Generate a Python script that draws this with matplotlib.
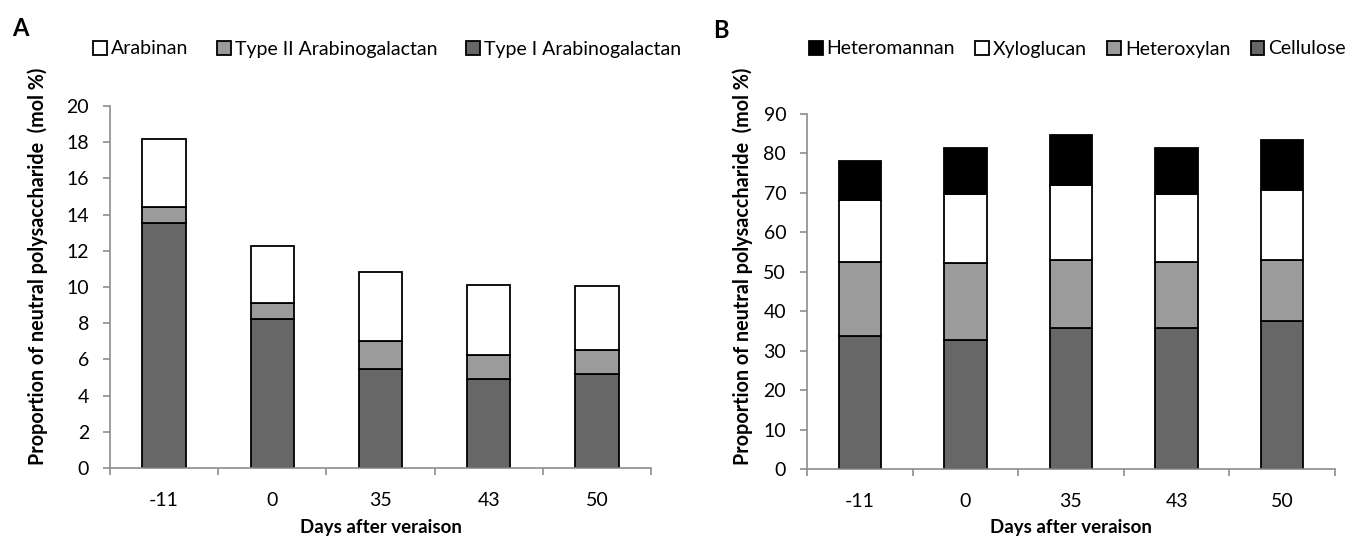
import numpy as np
import matplotlib
matplotlib.use("Agg")
import matplotlib.pyplot as plt
from matplotlib.patches import Patch

plt.rcParams['font.family'] = ['Lato', 'DejaVu Sans']

# data
days = ['-11', '0', '35', '43', '50']

# panel A (cumulative tops converted to segment heights)
type1_ag = [13.53, 8.22, 5.46, 4.93, 5.17]
type2_ag = [0.88, 0.91, 1.54, 1.32, 1.37]
arabinan = [3.78, 3.15, 3.82, 3.86, 3.50]

# panel B
cellulose = [33.7, 32.6, 35.8, 35.8, 37.4]
heteroxylan = [18.7, 19.5, 17.1, 16.6, 15.5]
xyloglucan = [15.8, 17.5, 19.1, 17.3, 17.8]
heteromannan = [9.8, 11.8, 12.6, 11.7, 12.6]

dark = '#676767'
mid = '#9b9b9b'
axis_col = '#8c8c8c'

fig = plt.figure(figsize=(13.63, 5.40), dpi=100)
axA = fig.add_axes([110 / 1363, 1 - 468 / 540, 541 / 1363, 362 / 540])
axB = fig.add_axes([807 / 1363, 1 - 469 / 540, 528 / 1363, 355 / 540])

x = np.arange(len(days))
w = 0.4


def style(ax, ymax, step):
    ax.set_xlim(-0.5, len(days) - 0.5)
    ax.set_ylim(0, ymax)
    ax.set_yticks(np.arange(0, ymax + 0.1, step))
    ax.set_xticks(np.arange(-0.5, len(days), 1.0))
    ax.set_xticklabels([])
    ax.set_xticks(x, minor=True)
    ax.set_xticklabels(days, minor=True)
    ax.tick_params(axis='x', which='minor', length=0, pad=17, labelsize=14)
    ax.tick_params(axis='x', which='major', direction='out', length=5,
                   color=axis_col, width=1.2)
    ax.tick_params(axis='y', direction='out', length=5, color=axis_col,
                   width=1.2, labelsize=14, pad=10)
    for s in ['top', 'right']:
        ax.spines[s].set_visible(False)
    for s in ['left', 'bottom']:
        ax.spines[s].set_color(axis_col)
        ax.spines[s].set_linewidth(1.2)
    ax.set_ylabel('Proportion of neutral polysaccharide  (mol %)',
                  fontsize=14.2, fontweight='bold')
    ax.set_xlabel('Days after veraison', fontsize=13.5, fontweight='bold')


kw = dict(width=w, edgecolor='black', linewidth=1.3)

# panel A
bottom = np.zeros(len(days))
axA.bar(x, type1_ag, bottom=bottom, color=dark, **kw)
bottom += type1_ag
axA.bar(x, type2_ag, bottom=bottom, color=mid, **kw)
bottom += type2_ag
axA.bar(x, arabinan, bottom=bottom, color='white', **kw)
style(axA, 20, 2)
axA.yaxis.set_label_coords(-0.115, 0.557)
axA.xaxis.set_label_coords(0.5, -0.14)

# panel B
bottom = np.zeros(len(days))
axB.bar(x, cellulose, bottom=bottom, color=dark, **kw)
bottom += cellulose
axB.bar(x, heteroxylan, bottom=bottom, color=mid, **kw)
bottom += heteroxylan
axB.bar(x, xyloglucan, bottom=bottom, color='white', **kw)
bottom += xyloglucan
axB.bar(x, heteromannan, bottom=bottom, color='black', **kw)
style(axB, 90, 10)
axB.yaxis.set_label_coords(-0.102, 0.57)
axB.xaxis.set_label_coords(0.5, -0.14)

leg_kw = dict(frameon=False, loc='center left', borderaxespad=0, borderpad=0,
              handlelength=0.7, handleheight=0.7, handletextpad=0.2,
              fontsize=14)

hA = [Patch(facecolor='white', edgecolor='black', linewidth=1.3),
      Patch(facecolor=mid, edgecolor='black', linewidth=1.3),
      Patch(facecolor=dark, edgecolor='black', linewidth=1.3)]
fig.legend(hA, ['Arabinan', 'Type II Arabinogalactan', 'Type I Arabinogalactan'],
           ncol=3, columnspacing=1.5, bbox_to_anchor=(93 / 1363, 1 - 49 / 540),
           **leg_kw)

hB = [Patch(facecolor='black', edgecolor='black', linewidth=1.3),
      Patch(facecolor='white', edgecolor='black', linewidth=1.3),
      Patch(facecolor=mid, edgecolor='black', linewidth=1.3),
      Patch(facecolor=dark, edgecolor='black', linewidth=1.3)]
fig.legend(hB, ['Heteromannan', 'Xyloglucan', 'Heteroxylan', 'Cellulose'],
           ncol=4, columnspacing=1.05, bbox_to_anchor=(809 / 1363, 1 - 49 / 540),
           **leg_kw)

fig.text(12 / 1363, 1 - 28 / 540, 'A', fontsize=17, fontweight='bold', va='center')
fig.text(713 / 1363, 1 - 30 / 540, 'B', fontsize=17, fontweight='bold', va='center')

fig.savefig('out.png', dpi=100)
